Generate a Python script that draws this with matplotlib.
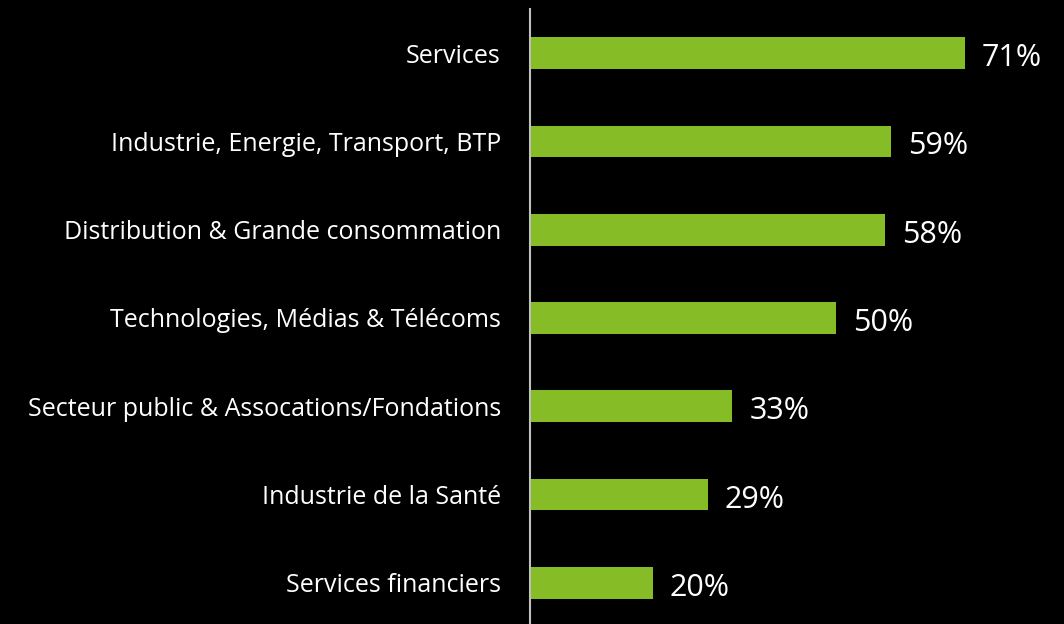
import matplotlib
matplotlib.use("Agg")
import matplotlib.pyplot as plt

categories = ["Services", "Industrie, Energie, Transport, BTP", "Distribution & Grande consommation",
              "Technologies, Médias & Télécoms", "Secteur public & Assocations/Fondations",
              "Industrie de la Santé", "Services financiers"]
values = [71, 59, 58, 50, 33, 29, 20]
value_labels = ["71%", "59%", "58%", "50%", "33%", "29%", "20%"]

W, H = 1064, 624
fig = plt.figure(figsize=(W/100, H/100), dpi=100, facecolor="black")
ax = fig.add_axes([530/W, 0, 1 - 530/W, (H-9)/H], facecolor="black")

pos = list(range(len(categories)))
ax.barh(pos, values, height=0.36, color="#86BC25")
ax.set_xlim(0, (W-530)/6.127)
ax.set_ylim(6.5 - 3/88.3, -0.5)

for p, v, lab in zip(pos, values, value_labels):
    ax.annotate(lab, (v, p), xytext=(17, -5), textcoords="offset pixels",
                va="center", ha="left", color="white", fontsize=22, family="Open Sans")

ax.set_yticks(pos)
ax.set_yticklabels(categories, color="white", fontsize=18, family="Open Sans")
ax.tick_params(axis="y", length=0, pad=21)
ax.set_xticks([])
for s in ["top", "right", "bottom"]:
    ax.spines[s].set_visible(False)
ax.spines["left"].set_color("#BFBFBF")
ax.spines["left"].set_linewidth(1.5)

fig.savefig("out.png", dpi=100, facecolor="black")
